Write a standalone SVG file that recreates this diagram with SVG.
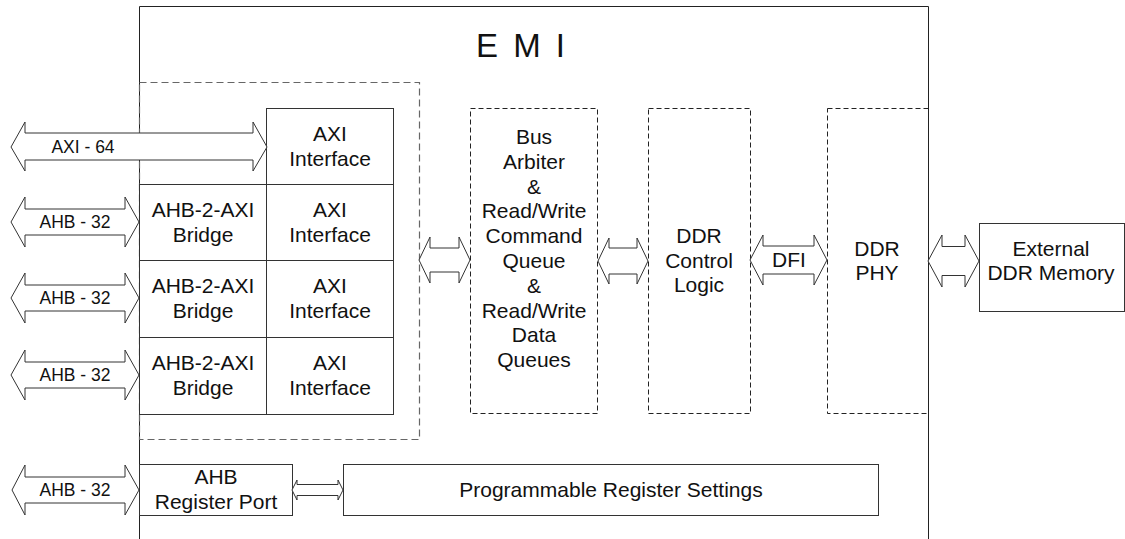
<svg xmlns="http://www.w3.org/2000/svg" width="1125" height="539" viewBox="0 0 1125 539">
<style>
text{font-family:"Liberation Sans",Arial,sans-serif;fill:#111;text-anchor:middle}
.t{font-size:21px}
.s{font-size:17.5px}
.box{fill:#fff;stroke:#333;stroke-width:1}
.dash{fill:none;stroke:#222;stroke-width:1;stroke-dasharray:5 3}
.gdash{fill:none;stroke:#666;stroke-width:1.2;stroke-dasharray:7 4}
.arr{fill:#fff;stroke:#333;stroke-width:1;stroke-linejoin:miter}
</style>
<rect width="1125" height="539" fill="#fff"/>
<g id="emi">
<path d="M139.5,539 V6.5 H928.5 V539" fill="none" stroke="#222" stroke-width="1"/>
<text x="522" y="57" style="font-size:33px;letter-spacing:3px">E M I</text>
</g>
<g id="port-group">
<rect class="gdash" x="139.5" y="82.5" width="280" height="357"/>
</g>
<g id="axi-if-1"><rect class="box" x="266.5" y="108.5" width="127" height="76"/><text class="t" x="330" y="140.5">AXI</text><text class="t" x="330" y="165.5">Interface</text></g>
<g id="bridge-1"><rect class="box" x="139.5" y="184.5" width="127" height="76"/><text class="t" x="203" y="216.5">AHB-2-AXI</text><text class="t" x="203" y="241.5">Bridge</text></g>
<g id="axi-if-2"><rect class="box" x="266.5" y="184.5" width="127" height="76"/><text class="t" x="330" y="216.5">AXI</text><text class="t" x="330" y="241.5">Interface</text></g>
<g id="bridge-2"><rect class="box" x="139.5" y="260.5" width="127" height="77"/><text class="t" x="203" y="293">AHB-2-AXI</text><text class="t" x="203" y="318">Bridge</text></g>
<g id="axi-if-3"><rect class="box" x="266.5" y="260.5" width="127" height="77"/><text class="t" x="330" y="293">AXI</text><text class="t" x="330" y="318">Interface</text></g>
<g id="bridge-3"><rect class="box" x="139.5" y="337.5" width="127" height="77"/><text class="t" x="203" y="370">AHB-2-AXI</text><text class="t" x="203" y="395">Bridge</text></g>
<g id="axi-if-4"><rect class="box" x="266.5" y="337.5" width="127" height="77"/><text class="t" x="330" y="370">AXI</text><text class="t" x="330" y="395">Interface</text></g>
<g id="arbiter">
<rect class="dash" x="470.5" y="108.5" width="127" height="305"/>
<text class="t" x="534" y="144">Bus</text>
<text class="t" x="534" y="168.8">Arbiter</text>
<text class="t" x="534" y="193.6">&amp;</text>
<text class="t" x="534" y="218.4">Read/Write</text>
<text class="t" x="534" y="243.2">Command</text>
<text class="t" x="534" y="268">Queue</text>
<text class="t" x="534" y="292.8">&amp;</text>
<text class="t" x="534" y="317.6">Read/Write</text>
<text class="t" x="534" y="342.4">Data</text>
<text class="t" x="534" y="367.2">Queues</text>
</g>
<g id="ddr-control">
<rect class="dash" x="648.5" y="108.5" width="102" height="305"/>
<text class="t" x="699" y="243">DDR</text><text class="t" x="699" y="268">Control</text><text class="t" x="699" y="292">Logic</text>
</g>
<g id="ddr-phy">
<rect class="dash" x="827.5" y="108.5" width="101" height="305"/>
<text class="t" x="877" y="256">DDR</text><text class="t" x="877" y="280">PHY</text>
</g>
<g id="external-memory">
<rect class="box" x="979.5" y="223.5" width="145" height="88"/>
<text class="t" x="1051" y="256">External</text><text class="t" x="1051" y="280">DDR Memory</text>
</g>
<g id="ahb-register-port">
<rect class="box" x="139.5" y="464.5" width="153" height="51"/>
<text class="t" x="216" y="484">AHB</text><text class="t" x="216" y="509">Register Port</text>
</g>
<g id="programmable-registers">
<rect class="box" x="343.5" y="464.5" width="535" height="51"/>
<text class="t" x="611" y="497">Programmable Register Settings</text>
</g>
<g id="connectors">
<polygon class="arr" points="11,147 25,122 25,133 253,133 253,122 267,147 253,171 253,160 25,160 25,171"/>
<polygon class="arr" points="11,222 25,197 25,209 125,209 125,197 139,222 125,247 125,235 25,235 25,247"/>
<polygon class="arr" points="11,298 25,273 25,285 125,285 125,273 139,298 125,323 125,311 25,311 25,323"/>
<polygon class="arr" points="11,375 25,350 25,362 125,362 125,350 139,375 125,400 125,388 25,388 25,400"/>
<polygon class="arr" points="12,490 25,465 25,477 125,477 125,465 139,490 125,515 125,503 25,503 25,515"/>
<polygon class="arr" points="292,490 297,480 297,484.5 338,484.5 338,480 343,490 338,500 338,495.5 297,495.5 297,500"/>
<polygon class="arr" points="419,260 430,237 430,248 459,248 459,237 470,260 459,283 459,272 430,272 430,283"/>
<polygon class="arr" points="598,261 609,238 609,248 637,248 637,238 648,261 637,284 637,274 609,274 609,284"/>
<polygon class="arr" points="750,260 763,235 763,246 814,246 814,235 827,260 814,285 814,274 763,274 763,285"/>
<polygon class="arr" points="928,261 942,235 942,246.5 965,246.5 965,235 979,261 965,287 965,275.5 942,275.5 942,287"/>
<text class="s" x="83" y="153">AXI - 64</text>
<text class="s" x="75" y="228">AHB - 32</text>
<text class="s" x="75" y="304">AHB - 32</text>
<text class="s" x="75" y="381">AHB - 32</text>
<text class="s" x="75" y="496">AHB - 32</text>
<text class="t" x="789" y="267">DFI</text>
</g>
</svg>
